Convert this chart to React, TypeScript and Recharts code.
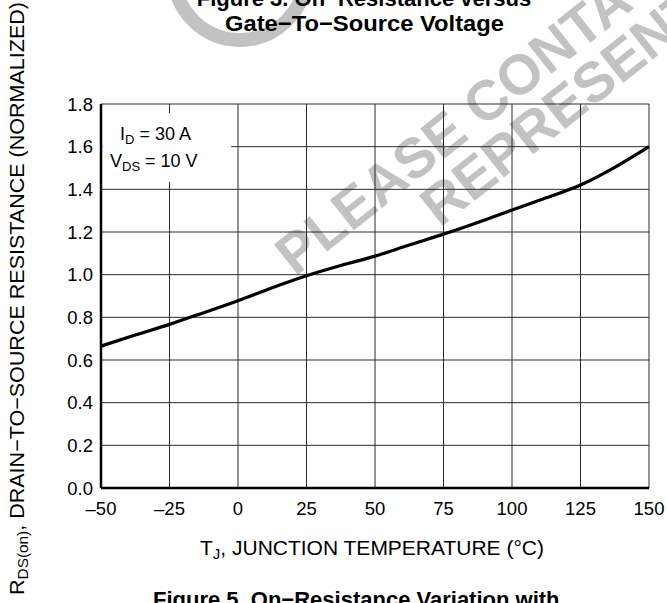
import React from 'react';
import {
    LineChart,
    Line,
    XAxis,
    YAxis,
    CartesianGrid,
    ReferenceArea,
} from 'recharts';

// junction temperature (°C) and normalized RDS(on)
const junctionTemps = [-50, -37.5, -25, -12.5, 0, 12.5, 25, 37.5, 50, 62.5, 75, 87.5, 100, 112.5, 125, 137.5, 150];
const rdsOnNorm = [0.665, 0.717, 0.767, 0.822, 0.878, 0.939, 0.995, 1.043, 1.087, 1.139, 1.19, 1.245, 1.303, 1.36, 1.42, 1.503, 1.6];

const xTicks = [-50, -25, 0, 25, 50, 75, 100, 125, 150];
const yTicks = [0, 0.2, 0.4, 0.6, 0.8, 1.0, 1.2, 1.4, 1.6, 1.8];

const data = junctionTemps.map((t, i) => ({ t, r: rdsOnNorm[i] }));

const FONT = '"Liberation Sans", Arial, Helvetica, sans-serif';
const W = 667;
const H = 603;

const Watermark: React.FC = () => (
    <svg width={W} height={H} style={{ position: 'absolute', left: 0, top: 0 }}>
        <circle cx={240} cy={-26} r={66} fill="none" stroke="#c2c2c2" strokeWidth={14} />
        <g fill="#c2c2c2" fontFamily={FONT} fontWeight="bold" fontSize={56}>
            <text transform="translate(295,277) rotate(-38.4)">PLEASE CONTACT YOUR</text>
            <text transform="translate(440,228) rotate(-38.4)">REPRESENTATIVE FOR</text>
        </g>
    </svg>
);

const Labels: React.FC = () => (
    <svg width={W} height={H} style={{ position: 'absolute', left: 0, top: 0, pointerEvents: 'none' }}>
        <g fontFamily={FONT} fill="#000">
            <text x={364} y={6} textAnchor="middle" fontWeight="bold" fontSize={22}>
                Figure 3. On{'\u2212'}Resistance versus
            </text>
            <text x={364.5} y={31} textAnchor="middle" fontWeight="bold" fontSize={22} textLength={279} lengthAdjust="spacingAndGlyphs">
                Gate{'\u2212'}To{'\u2212'}Source Voltage
            </text>

            <text x={120} y={140} fontSize={18}>
                I<tspan dy={4} fontSize={13}>D</tspan><tspan dy={-4}> = 30 A</tspan>
            </text>
            <text x={110} y={166.5} fontSize={18}>
                V<tspan dy={4} fontSize={13}>DS</tspan><tspan dy={-4}> = 10 V</tspan>
            </text>

            <text x={372} y={555} textAnchor="middle" fontSize={21} textLength={344} lengthAdjust="spacingAndGlyphs">
                T<tspan dy={4} fontSize={15}>J</tspan><tspan dy={-4}>, JUNCTION TEMPERATURE (°C)</tspan>
            </text>

            <text x={153} y={607} fontWeight="bold" fontSize={22}>
                Figure 5. On{'\u2212'}Resistance Variation with
            </text>

            <text
                transform="translate(24,298.5) rotate(-90)"
                textAnchor="middle"
                fontSize={21}
                textLength={593}
                lengthAdjust="spacingAndGlyphs"
            >
                R<tspan dy={4} fontSize={15}>DS(on)</tspan>
                <tspan dy={-4}>, DRAIN{'\u2212'}TO{'\u2212'}SOURCE RESISTANCE (NORMALIZED)</tspan>
            </text>
        </g>
    </svg>
);

export default function App() {
    return (
        <div style={{ position: 'absolute', left: 0, top: 0, width: W, height: H, background: '#fff', overflow: 'hidden' }}>
            <Watermark />
            <div style={{ position: 'absolute', left: 0, top: 0 }}>
                <LineChart width={W} height={H} data={data} margin={{ top: 104, right: 18, bottom: 85, left: 41 }}>
                    <CartesianGrid stroke="#2b2b2b" strokeWidth={1} />
                    <XAxis
                        dataKey="t"
                        type="number"
                        domain={[-50, 150]}
                        ticks={xTicks}
                        height={30}
                        tickSize={0}
                        tickMargin={14}
                        axisLine={{ stroke: '#000', strokeWidth: 2.5 }}
                        tick={{ fill: '#000', fontSize: 18.5, fontFamily: FONT }}
                        tickFormatter={(v: number) => (v < 0 ? '\u2013' + Math.abs(v) : String(v))}
                    />
                    <YAxis
                        type="number"
                        domain={[0, 1.8]}
                        ticks={yTicks}
                        width={60}
                        tickSize={0}
                        tickMargin={8}
                        axisLine={{ stroke: '#000', strokeWidth: 2.5 }}
                        tick={{ fill: '#000', fontSize: 18.5, fontFamily: FONT }}
                        tickFormatter={(v: number) => v.toFixed(1)}
                    />
                    <ReferenceArea x1={-49.4} x2={-2.5} y1={1.435} y2={1.758} fill="#fff" fillOpacity={1} stroke="none" />
                    <Line
                        type="monotone"
                        dataKey="r"
                        stroke="#000"
                        strokeWidth={3.2}
                        dot={false}
                        isAnimationActive={false}
                    />
                </LineChart>
            </div>
            <Labels />
        </div>
    );
}
